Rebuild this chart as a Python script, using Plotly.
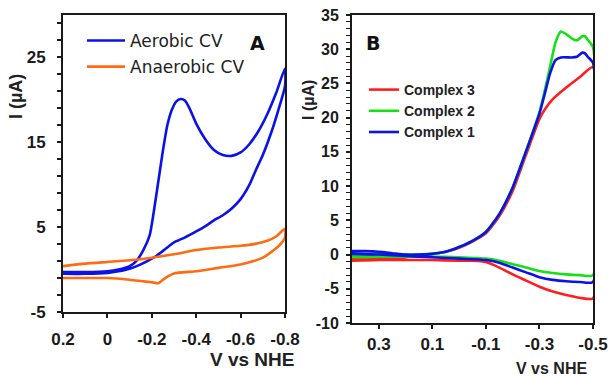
import plotly.graph_objects as go

W, H = 609, 376

# ---------------- Panel A data (V vs NHE, I in uA) ----------------
aer_v = [0.20, 0.10, 0.00, -0.05, -0.10, -0.13, -0.16, -0.19, -0.21, -0.23, -0.25, -0.27, -0.29,
         -0.31, -0.33, -0.35, -0.37, -0.40, -0.44, -0.48, -0.52, -0.56, -0.60, -0.64, -0.68,
         -0.72, -0.76, -0.80,
         -0.80, -0.77, -0.74, -0.70, -0.67, -0.64, -0.60, -0.56, -0.52, -0.48, -0.44, -0.40,
         -0.35, -0.30, -0.26, -0.22, -0.18, -0.14, -0.10, -0.05, 0.00, 0.10, 0.20]
aer_i = [-0.3, -0.3, -0.2, 0.0, 0.4, 1.0, 2.2, 4.0, 7.0, 10.5, 14.0, 17.0, 18.8,
         19.8, 20.1, 19.9, 19.0, 17.2, 15.4, 14.1, 13.5, 13.4, 13.8, 14.8, 16.3,
         18.3, 20.8, 23.7,
         21.6, 18.8, 16.3, 13.5, 11.8, 10.0, 8.3, 7.2, 6.4, 5.8, 5.1, 4.5,
         3.8, 3.2, 2.4, 1.6, 1.0, 0.5, 0.1, -0.2, -0.4, -0.5, -0.5]

anaer_v = [0.20, 0.10, 0.00, -0.10, -0.15, -0.20, -0.23, -0.26, -0.30, -0.40, -0.50, -0.60,
           -0.66, -0.70, -0.75, -0.78, -0.80,
           -0.80, -0.76, -0.72, -0.66, -0.60, -0.50, -0.40, -0.30, -0.20, -0.10, 0.00, 0.10, 0.20]
anaer_i = [-1.0, -1.0, -1.0, -1.2, -1.35, -1.5, -1.6, -1.0, -0.45, -0.2, 0.2, 0.6,
           1.0, 1.4, 2.3, 3.0, 3.8,
           4.8, 3.9, 3.4, 3.0, 2.8, 2.6, 2.3, 1.8, 1.4, 1.1, 0.9, 0.7, 0.4]

# ---------------- Panel B data ----------------
c3_v = [0.40, 0.30, 0.20, 0.15, 0.10, 0.05, 0.00, -0.05, -0.10, -0.15, -0.20, -0.25, -0.30,
        -0.32, -0.35, -0.40, -0.45, -0.50,
        -0.50, -0.45, -0.40, -0.35, -0.30, -0.25, -0.20, -0.15, -0.10, -0.05, 0.00, 0.10,
        0.20, 0.30, 0.40]
c3_i = [-0.7, -0.6, -0.4, -0.1, 0.1, 0.4, 1.0, 1.9, 3.1, 5.6, 9.3, 14.6, 19.8,
        21.2, 22.7, 24.4, 25.9, 27.4,
        -6.4, -6.3, -5.9, -5.4, -4.7, -3.8, -2.9, -1.9, -1.1, -0.9, -0.9, -0.8,
        -0.8, -0.8, -0.9]

c2_v = [0.40, 0.30, 0.20, 0.10, 0.05, 0.00, -0.05, -0.10, -0.15, -0.20, -0.25, -0.30,
        -0.32, -0.34, -0.36, -0.38, -0.40, -0.42, -0.44, -0.46, -0.47, -0.48, -0.50,
        -0.50, -0.45, -0.40, -0.35, -0.30, -0.25, -0.20, -0.15, -0.10, 0.00, 0.10,
        0.20, 0.30, 0.40]
c2_i = [-0.1, 0.1, 0.0, 0.1, 0.4, 1.1, 2.0, 3.3, 5.9, 9.8, 15.1, 20.8,
        24.0, 27.5, 31.0, 32.6, 32.2, 31.6, 31.3, 31.9, 31.9, 31.4, 30.3,
        -3.0, -3.0, -2.9, -2.7, -2.4, -1.9, -1.4, -0.9, -0.6, -0.4, -0.3,
        -0.3, -0.3, -0.4]

c1_v = [0.40, 0.35, 0.30, 0.25, 0.20, 0.15, 0.10, 0.05, 0.00, -0.05, -0.10, -0.15, -0.20,
        -0.25, -0.30, -0.32, -0.34, -0.36, -0.38, -0.42, -0.44, -0.46, -0.47, -0.48, -0.50,
        -0.50, -0.45, -0.40, -0.35, -0.30, -0.25, -0.20, -0.15, -0.10, 0.00, 0.10,
        0.20, 0.30, 0.40]
c1_i = [0.5, 0.5, 0.4, 0.2, 0.0, 0.0, 0.1, 0.4, 1.1, 2.0, 3.3, 5.9, 9.8,
        15.1, 20.6, 23.5, 26.5, 28.4, 28.8, 28.8, 28.9, 29.5, 29.4, 28.9, 28.0,
        -4.0, -4.0, -3.9, -3.7, -3.3, -2.6, -1.9, -1.2, -0.8, -0.6, -0.4,
        -0.2, 0.0, 0.1]

# tick labels
a_xticks = [0.2, 0, -0.2, -0.4, -0.6, -0.8]
a_xlabels = ["0.2", "0", "-0.2", "-0.4", "-0.6", "-0.8"]
a_yticks = [-5, 5, 15, 25]
a_ylabels = ["-5", "5", "15", "25"]
b_xticks = [0.3, 0.1, -0.1, -0.3, -0.5]
b_xlabels = ["0.3", "0.1", "-0.1", "-0.3", "-0.5"]
b_yticks = [-10, -5, 0, 5, 10, 15, 20, 25, 30, 35]
b_ylabels = ["-10", "-5", "0", "5", "10", "15", "20", "25", "30", "35"]

BLUE = "#0A12E8"
ORANGE = "#FF6A12"
RED = "#FF1E1E"
GREEN = "#14E014"


def px(x):
    return x / W


def py(y):
    return 1 - y / H


def bold(labels):
    return ["<b>%s</b>" % t for t in labels]


fig = go.Figure()
fig.add_trace(go.Scatter(x=aer_v, y=aer_i, mode="lines", name="Aerobic CV",
                         line=dict(color=BLUE, width=2.6, shape="spline", smoothing=0.6),
                         xaxis="x", yaxis="y", legend="legend", legendgroup="a1"))
fig.add_trace(go.Scatter(x=anaer_v, y=anaer_i, mode="lines", name="Anaerobic CV",
                         line=dict(color=ORANGE, width=2.6, shape="spline", smoothing=0.6),
                         xaxis="x", yaxis="y", legend="legend", legendgroup="a2"))
fig.add_trace(go.Scatter(x=c3_v, y=c3_i, mode="lines", name="<b>Complex 3</b>",
                         line=dict(color=RED, width=2.6, shape="spline", smoothing=0.6),
                         xaxis="x2", yaxis="y2", legend="legend2"))
fig.add_trace(go.Scatter(x=c2_v, y=c2_i, mode="lines", name="<b>Complex 2</b>",
                         line=dict(color=GREEN, width=2.6, shape="spline", smoothing=0.6),
                         xaxis="x2", yaxis="y2", legend="legend2"))
fig.add_trace(go.Scatter(x=c1_v, y=c1_i, mode="lines", name="<b>Complex 1</b>",
                         line=dict(color=BLUE, width=2.6, shape="spline", smoothing=0.6),
                         xaxis="x2", yaxis="y2", legend="legend2"))

AX = "#1a1a1a"
tickfont_a = dict(family="Liberation Sans, Arial", size=17, color="#1a1a1a")
tickfont_b = dict(family="Liberation Sans, Arial", size=16, color="#1a1a1a")

common = dict(showgrid=False, zeroline=False, showline=True, linecolor=AX, linewidth=2,
              mirror=True, ticks="outside", ticklen=4, tickwidth=1.5, tickcolor=AX,
              automargin=False, fixedrange=True)

fig.update_layout(
    width=W, height=H, margin=dict(l=0, r=0, t=0, b=0),
    paper_bgcolor="white", plot_bgcolor="white", showlegend=True,
    xaxis=dict(domain=[px(63), px(285)], range=[0.2, -0.8], anchor="y",
               tickmode="array", tickvals=a_xticks, ticktext=bold(a_xlabels),
               tickfont=tickfont_a, ticklabelstandoff=7, **common),
    yaxis=dict(domain=[py(312), py(15)], range=[-5, 30], anchor="x",
               tickmode="array", tickvals=a_yticks, ticktext=bold(a_ylabels),
               tickfont=tickfont_a, ticklabelstandoff=8,
               minor=dict(tickmode="linear", tick0=-5, dtick=2, ticks="outside",
                          ticklen=4, tickwidth=1.5, tickcolor=AX),
               **common),
    xaxis2=dict(domain=[px(352), px(593)], range=[0.4, -0.5], anchor="y2",
                tickmode="array", tickvals=b_xticks, ticktext=bold(b_xlabels),
                tickfont=tickfont_a, ticklabelstandoff=1, **common),
    yaxis2=dict(domain=[py(323), py(15)], range=[-10, 35], anchor="x2",
                tickmode="array", tickvals=b_yticks, ticktext=bold(b_ylabels),
                tickfont=tickfont_b, ticklabelstandoff=4,
                minor=dict(tickmode="linear", tick0=-10, dtick=1, ticks="outside",
                           ticklen=4, tickwidth=1.2, tickcolor=AX),
                **common),
    legend=dict(x=px(82), y=py(23), xanchor="left", yanchor="top",
                bgcolor="rgba(0,0,0,0)", borderwidth=0, tracegroupgap=1,
                itemwidth=38,
                font=dict(family="DejaVu Sans", size=17, color="#222")),
    legend2=dict(x=px(364), y=py(74), xanchor="left", yanchor="top",
                 bgcolor="rgba(0,0,0,0)", borderwidth=0,
                 font=dict(family="Liberation Sans, Arial", size=14, color="#222")),
)

ann_font = dict(family="Liberation Sans, Arial", color="#222")
fig.add_annotation(xref="paper", yref="paper", x=px(16), y=py(97), text="<b>I (µA)</b>",
                   textangle=-90, showarrow=False, font=dict(size=18, **ann_font),
                   xanchor="center", yanchor="middle")
fig.add_annotation(xref="paper", yref="paper", x=px(308), y=py(100), text="<b>I (µA)</b>",
                   textangle=-90, showarrow=False, font=dict(size=16, **ann_font),
                   xanchor="center", yanchor="middle")
fig.add_annotation(xref="paper", yref="paper", x=px(296), y=py(359), text="<b>V vs NHE</b>",
                   showarrow=False, font=dict(size=19, **ann_font),
                   xanchor="right", yanchor="middle")
fig.add_annotation(xref="paper", yref="paper", x=px(589), y=py(368), text="<b>V vs NHE</b>",
                   showarrow=False, font=dict(size=16, **ann_font),
                   xanchor="right", yanchor="middle")
fig.add_annotation(xref="paper", yref="paper", x=px(257), y=py(43), text="<b>A</b>",
                   showarrow=False, font=dict(size=19, family="DejaVu Sans", color="#111"),
                   xanchor="center", yanchor="middle")
fig.add_annotation(xref="paper", yref="paper", x=px(373), y=py(43), text="<b>B</b>",
                   showarrow=False, font=dict(size=19, family="DejaVu Sans", color="#111"),
                   xanchor="center", yanchor="middle")

fig.write_html("out.html")
